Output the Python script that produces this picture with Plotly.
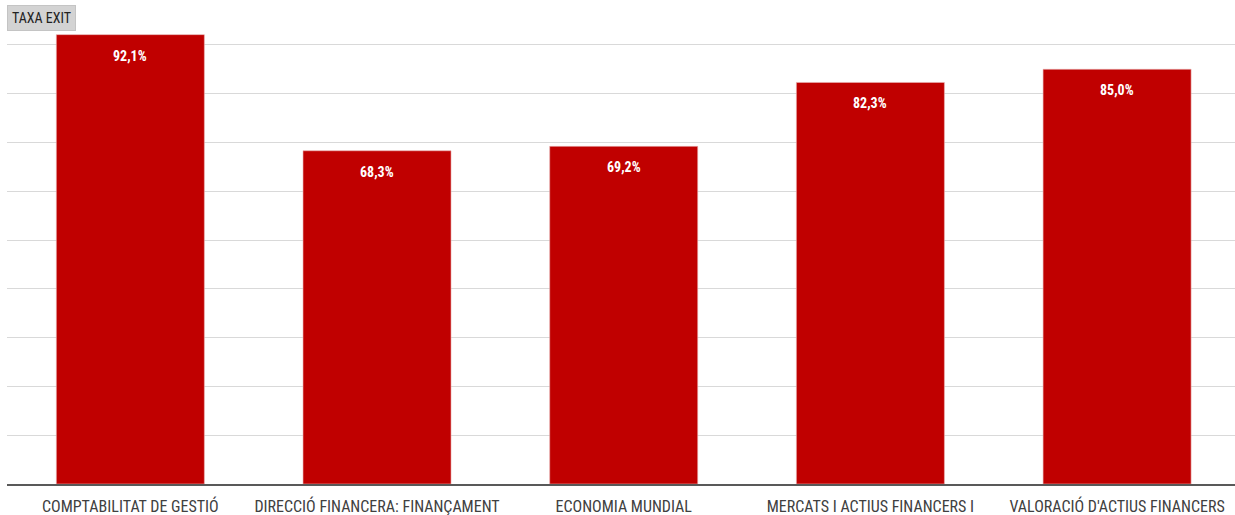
import plotly.graph_objects as go

categories = ["COMPTABILITAT DE GESTIÓ", "DIRECCIÓ FINANCERA: FINANÇAMENT", "ECONOMIA MUNDIAL",
              "MERCATS I ACTIUS FINANCERS I", "VALORACIÓ D'ACTIUS FINANCERS"]
values = [92.1, 68.3, 69.2, 82.3, 85.0]
series_name = "TAXA EXIT"

FONT = "Liberation Sans Narrow, Arial Narrow, Roboto Condensed, sans-serif"

fig = go.Figure()
fig.add_trace(go.Bar(
    x=list(range(len(categories))), y=values, name=series_name,
    marker=dict(color="#C00000", line=dict(color="#e9b3b3", width=0.6)),
    width=0.6, hoverinfo="skip",
))

for i, v in enumerate(values):
    fig.add_annotation(x=i, y=v, xref="x", yref="y", yanchor="top", yshift=-11,
                       text="<b>" + f"{v:.1f}%".replace(".", ",") + "</b>",
                       showarrow=False, font=dict(family=FONT, size=14, color="white"))

fig.add_annotation(x=0, y=0.99, xref="paper", yref="paper", xanchor="left", yanchor="top",
                   text=series_name, showarrow=False,
                   font=dict(family=FONT, size=14, color="#222222"),
                   bgcolor="#d3d3d3", bordercolor="#c4c4c4", borderwidth=1, borderpad=4)

fig.update_layout(
    width=1235, height=515,
    margin=dict(l=7, r=0, t=0, b=31),
    plot_bgcolor="white", paper_bgcolor="white",
    showlegend=False,
    xaxis=dict(range=[-0.5, 4.478], tickmode="array", tickvals=list(range(len(categories))),
               ticktext=categories, showgrid=False, zeroline=False, automargin=False,
               showline=True, linecolor="#595959", linewidth=2,
               ticks="outside", ticklen=7, tickcolor="rgba(0,0,0,0)",
               tickfont=dict(family=FONT, size=16, color="#404040")),
    yaxis=dict(range=[0, 99.2], dtick=10, showticklabels=False, showgrid=True, automargin=False,
               gridcolor="#d9d9d9", gridwidth=1, zeroline=False, showline=False),
)

fig.write_html("out.html", config={"displayModeBar": False},
               post_script="document.body.style.margin='0';document.body.style.overflow='hidden';")
